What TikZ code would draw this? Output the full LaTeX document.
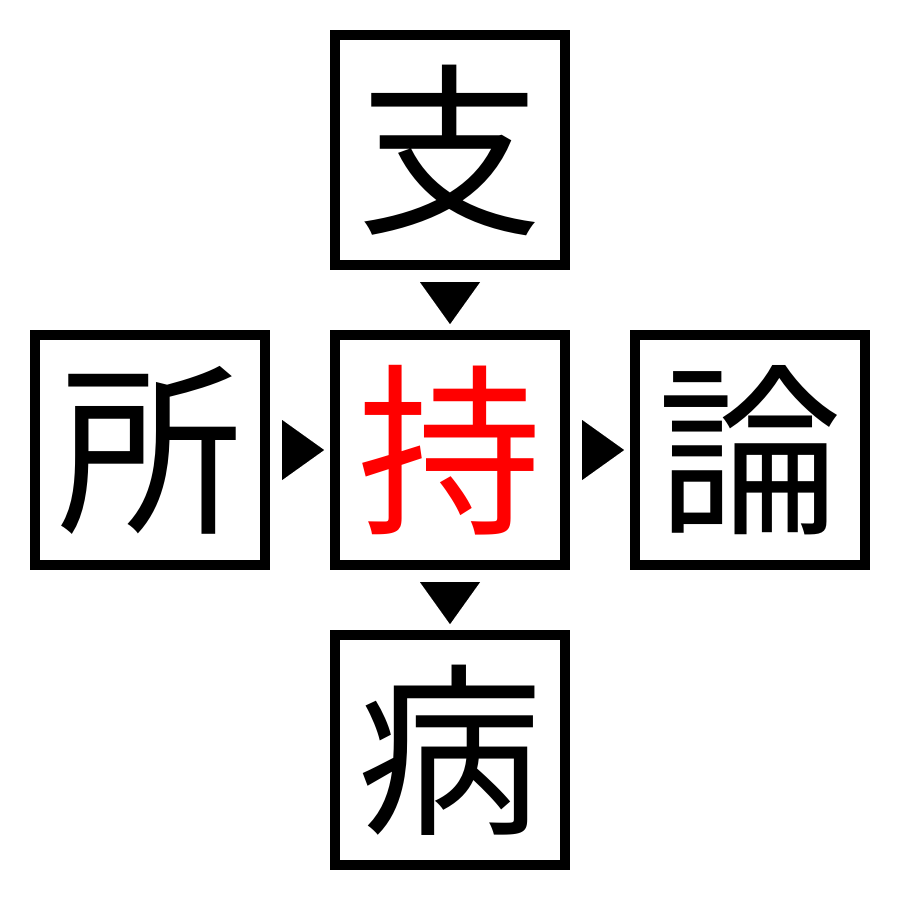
\documentclass[tikz,border=0pt]{standalone}
\usepackage{fontspec}
\newfontfamily\cjk{Noto Sans CJK JP}
\usetikzlibrary{arrows.meta}
\begin{document}
\begin{tikzpicture}[x=1pt,y=-1pt,
  kanji/.style={draw=black,line width=10pt,minimum size=230pt,inner sep=0pt,
    font=\cjk\fontsize{185}{185}\selectfont},
  link/.style={line width=0.01pt,-{Triangle[length=42pt,width=60pt]},
    shorten <=12pt,shorten >=6pt}]
\useasboundingbox (0,0) rectangle (900,900);
\node[kanji] (top) at (450,150) {支};
\node[kanji] (left) at (150,450) {所};
\node[kanji,text=red] (mid) at (450,450) {持};
\node[kanji] (right) at (750,450) {論};
\node[kanji] (bot) at (450,750) {病};
\draw[link] (top.south) -- (mid.north);
\draw[link] (mid.south) -- (bot.north);
\draw[link] (left.east) -- (mid.west);
\draw[link] (mid.east) -- (right.west);
\end{tikzpicture}
\end{document}
